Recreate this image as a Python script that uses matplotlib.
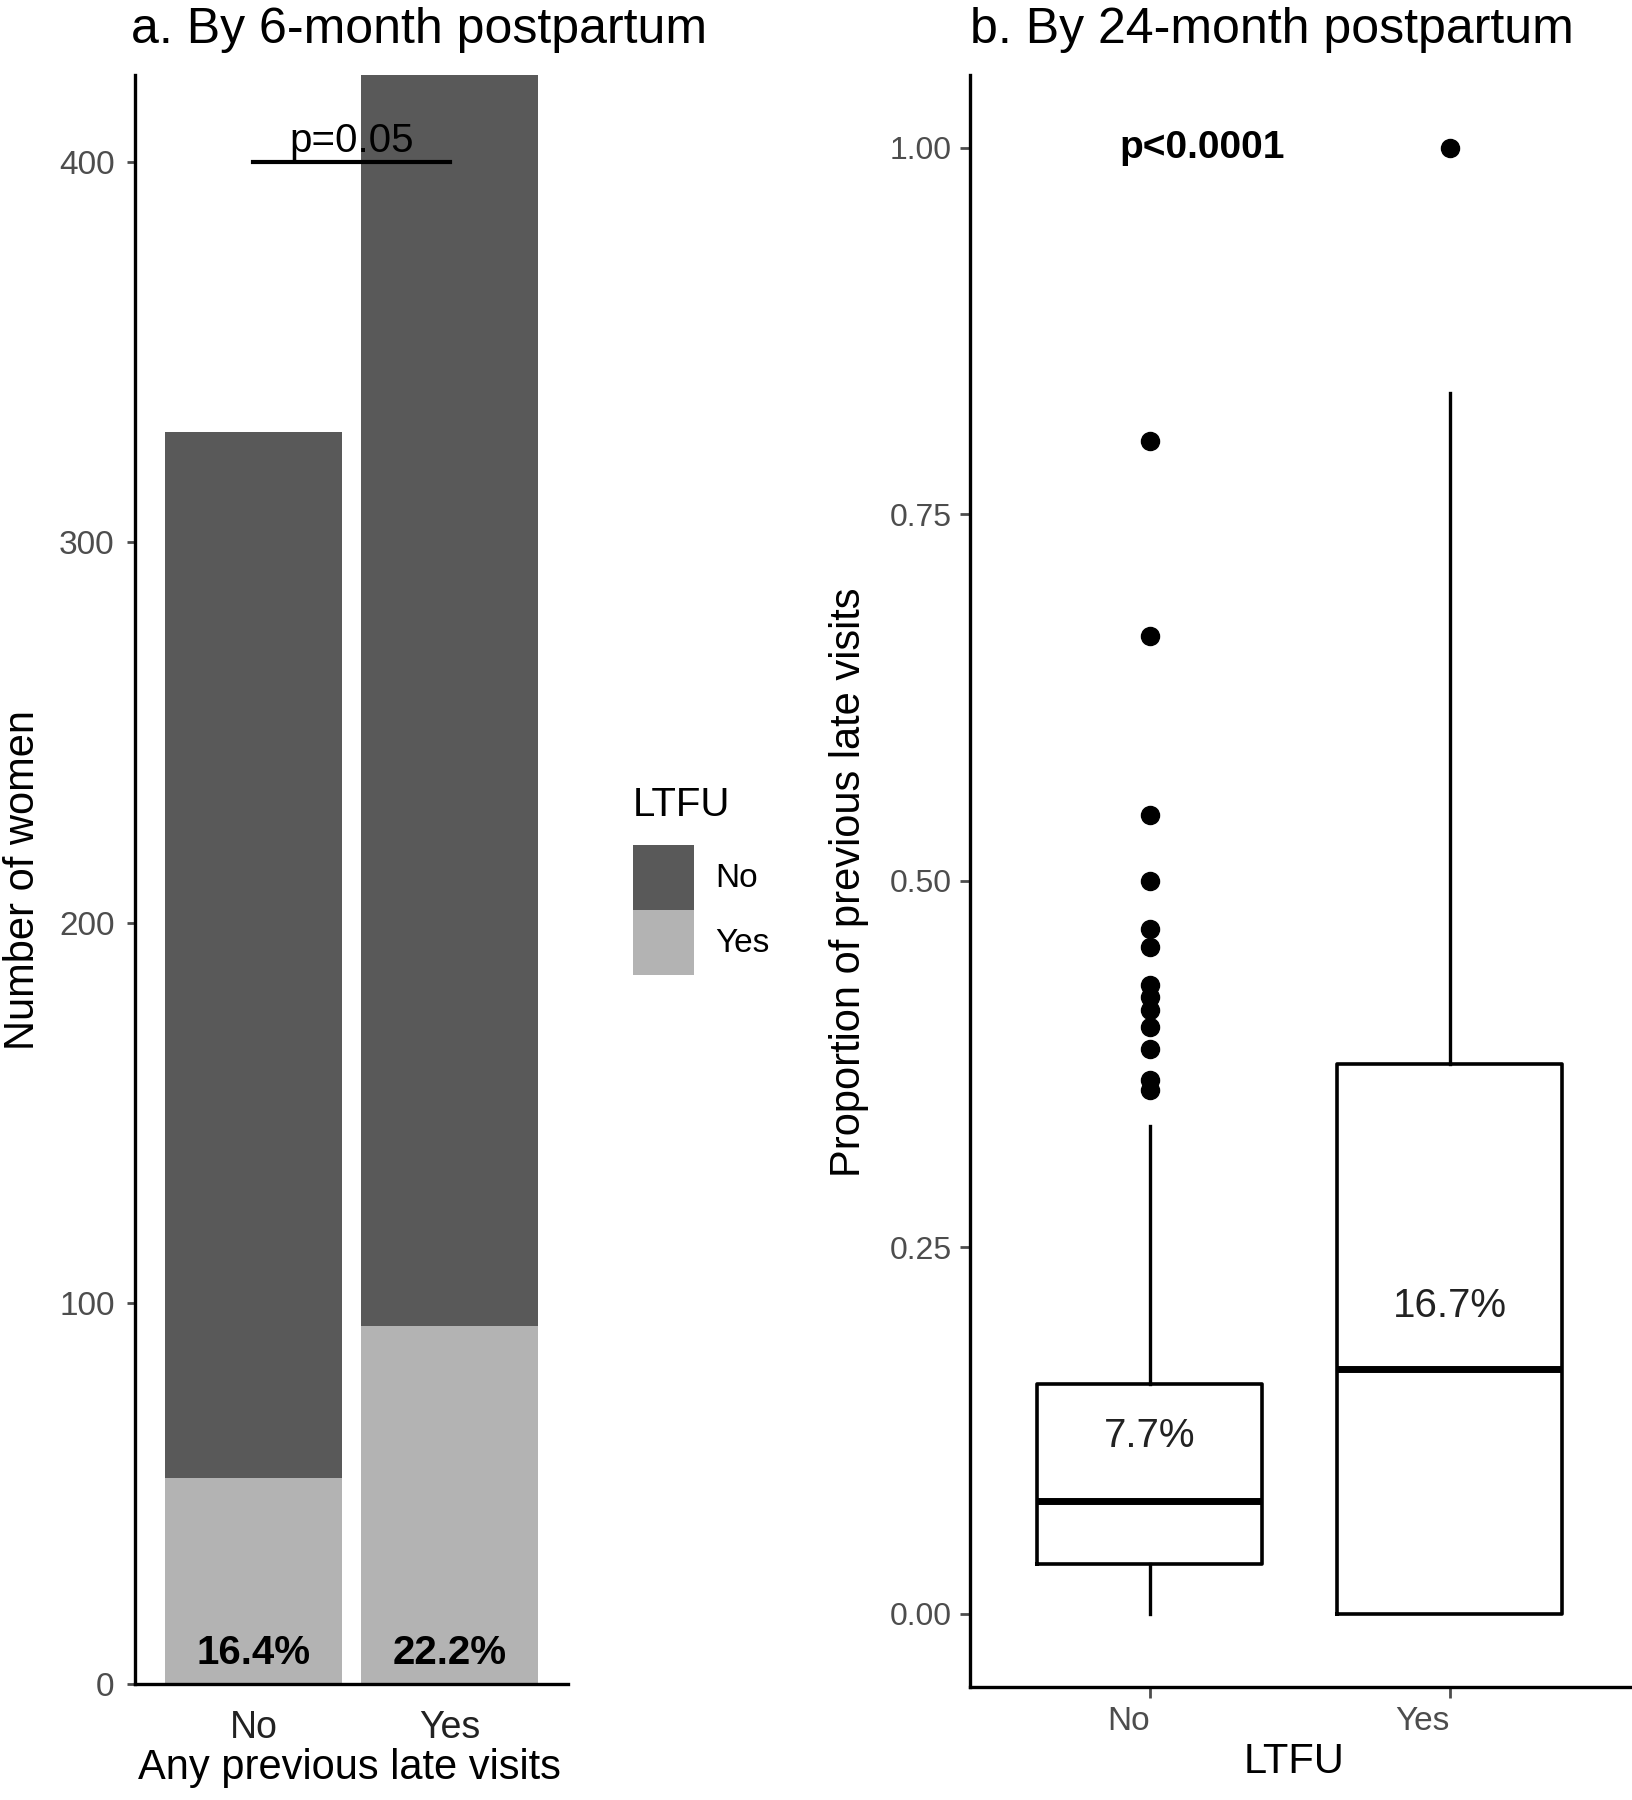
import matplotlib
matplotlib.use('Agg')
import matplotlib.pyplot as plt
from matplotlib.patches import Patch, Rectangle
from matplotlib.legend_handler import HandlerPatch

plt.rcParams['font.family'] = ['Liberation Sans', 'DejaVu Sans']

# panel a: counts of women by any previous late visit, split by LTFU
groups = ['No', 'Yes']
ltfu_yes_counts = [54, 94]
ltfu_no_counts = [275, 329]
bar_pct = ['16.4%', '22.2%']
p_left = 'p=0.05'

# panel b: proportion of previous late visits by LTFU (box stats)
box_groups = ['No', 'Yes']
q1 = [0.034, 0.0]
med = [0.077, 0.167]
q3 = [0.157, 0.375]
whislo = [0.0, 0.0]
whishi = [0.333, 0.833]
fliers_no = [0.8, 0.667, 0.545, 0.5, 0.467, 0.455, 0.429, 0.421, 0.412,
             0.4, 0.385, 0.364, 0.357]
fliers_yes = [1.0]
med_pct = ['7.7%', '16.7%']
med_pct_y = [0.121, 0.21]
p_right = 'p<0.0001'

dark = '#595959'
light = '#b3b3b3'
tick_col = '#4d4d4d'

fig = plt.figure(figsize=(16.33, 18), dpi=100)

# ---- panel a
ax1 = fig.add_axes([0.0829, 0.0647, 0.2649, 0.8939])
x = [1, 2]
ax1.bar(x, ltfu_yes_counts, width=0.9, color=light, zorder=1)
ax1.bar(x, ltfu_no_counts, bottom=ltfu_yes_counts, width=0.9, color=dark, zorder=1)
ax1.set_xlim(0.4, 2.6)
ax1.set_ylim(0, 423)
ax1.set_yticks([0, 100, 200, 300, 400])
ax1.set_xticks(x)
ax1.set_xticklabels(groups)
ax1.tick_params(axis='y', labelsize=24, colors=tick_col, length=6, width=2, pad=9)
ax1.tick_params(axis='x', labelsize=27, labelcolor='#222222', length=0, pad=19)
for i, t in enumerate(bar_pct):
    ax1.text(x[i], 3, t, ha='center', va='bottom', fontsize=29, fontweight='bold', zorder=3)
ax1.plot([1, 2], [400, 400], color='black', lw=3, zorder=3)
ax1.text(1.5, 400.5, p_left, ha='center', va='bottom', fontsize=29, zorder=3)
ax1.set_title('a. By 6-month postpartum', loc='left', fontsize=36, pad=23, x=-0.01)

# ---- panel b
ax2 = fig.add_axes([0.5938, 0.0628, 0.4041, 0.8958])
stats = []
fl = [fliers_no, fliers_yes]
for i in range(2):
    stats.append({'med': med[i], 'q1': q1[i], 'q3': q3[i], 'whislo': whislo[i],
                  'whishi': whishi[i], 'fliers': fl[i], 'label': box_groups[i]})
ax2.bxp(stats, positions=[1, 2], widths=0.75, showcaps=False,
        boxprops=dict(color='black', lw=2.6),
        medianprops=dict(color='black', lw=5),
        whiskerprops=dict(color='black', lw=2.4),
        flierprops=dict(marker='o', markerfacecolor='black', markeredgecolor='black',
                        markersize=13))
ax2.set_xlim(0.4, 2.6)
ax2.set_ylim(-0.05, 1.05)
ax2.set_yticks([0, 0.25, 0.5, 0.75, 1.0])
ax2.set_yticklabels(['0.00', '0.25', '0.50', '0.75', '1.00'])
ax2.set_xticks([1, 2])
ax2.set_xticklabels(box_groups, ha='right')
ax2.tick_params(axis='y', labelsize=23, colors=tick_col, length=7, width=2, pad=6)
ax2.tick_params(axis='x', labelsize=24, colors=tick_col, length=8, width=2, pad=6)
for i, t in enumerate(med_pct):
    ax2.text(i + 1, med_pct_y[i], t, ha='center', va='center', fontsize=29, color='#222222')
ax2.text(1.175, 1.0, p_right, ha='center', va='center', fontsize=28, fontweight='bold')
ax2.set_title('b. By 24-month postpartum', loc='left', fontsize=36, pad=23)

for ax in (ax1, ax2):
    ax.spines['top'].set_visible(False)
    ax.spines['right'].set_visible(False)
    ax.spines['left'].set_linewidth(2.4)
    ax.spines['bottom'].set_linewidth(2.4)

fig.text(0.014, 0.511, 'Number of women', rotation=90, ha='center', va='center', fontsize=30)
fig.text(0.214, 0.0175, 'Any previous late visits', ha='center', va='center', fontsize=30)
fig.text(0.52, 0.51, 'Proportion of previous late visits', rotation=90, ha='center', va='center', fontsize=30)
fig.text(0.7927, 0.021, 'LTFU', ha='center', va='center', fontsize=30)


# legend keys filling the whole handle box, stacked without gaps
def full_key(legend, orig_handle, xdescent, ydescent, width, height, fontsize):
    return Rectangle((-xdescent, -ydescent), width, height)


handles = [Patch(facecolor=dark, edgecolor='none', label='No'),
           Patch(facecolor=light, edgecolor='none', label='Yes')]
fig.text(0.3876, 0.553, 'LTFU', ha='left', va='center', fontsize=29)
fig.legend(handles=handles, loc='upper left', bbox_to_anchor=(0.3876, 0.5306),
           frameon=False, fontsize=24, handlelength=1.83, handleheight=2.62,
           labelspacing=0, handletextpad=0.65, borderpad=0, borderaxespad=0,
           handler_map={Patch: HandlerPatch(patch_func=full_key)})

fig.savefig('out.png', dpi=100)
